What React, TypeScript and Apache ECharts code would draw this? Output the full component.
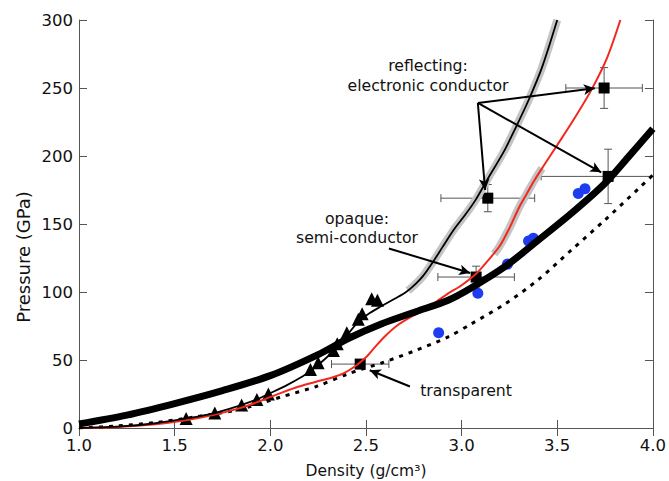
import React, { useEffect, useRef } from 'react';
import * as echarts from 'echarts';

// ---- data (density g/cm3, pressure GPa) ----
const thickCurve: number[][] = [
  [1.0, 3], [1.25, 9.5], [1.5, 18], [1.75, 27.5], [2.0, 38.5], [2.25, 54], [2.41, 66],
  [2.58, 76.5], [2.76, 85.5], [2.93, 94], [3.05, 103], [3.23, 119], [3.4, 138],
  [3.575, 158], [3.75, 180], [3.87, 199], [4.0, 220],
];
const dashedCurve: number[][] = [
  [1.0, 0], [1.2, 1.5], [1.4, 4], [1.6, 8], [1.8, 12.5], [1.89, 15.5], [2.06, 23],
  [2.24, 30.5], [2.41, 40], [2.585, 48], [2.76, 57], [2.93, 67], [3.05, 76.5],
  [3.23, 91.5], [3.4, 109], [3.575, 131], [3.75, 153], [3.94, 178], [4.0, 186],
];
const redCurve: number[][] = [
  [1.0, 0], [1.2, 0.8], [1.4, 2.8], [1.55, 5.5], [1.7, 9.5], [1.85, 15], [1.95, 20],
  [2.06, 26], [2.15, 30.5], [2.24, 34], [2.32, 37], [2.38, 40], [2.44, 45], [2.5, 52],
  [2.55, 60], [2.6, 67.5], [2.66, 75], [2.74, 82], [2.81, 87], [2.87, 93], [2.93, 99],
  [3.0, 105], [3.08, 114], [3.14, 123.5], [3.2, 134], [3.25, 147], [3.3, 162],
  [3.34, 172], [3.38, 182], [3.43, 193], [3.5, 208], [3.6, 230], [3.68, 249],
  [3.76, 272], [3.83, 300],
];
const redHalo: number[][] = [
  [3.17, 128], [3.2, 134], [3.25, 147], [3.3, 162], [3.34, 172], [3.38, 182], [3.42, 191],
];
const thinCurve: number[][] = [
  [1.0, 0], [1.2, 1], [1.4, 3.5], [1.56, 7], [1.71, 11], [1.85, 17], [1.93, 21],
  [1.99, 25], [2.08, 31], [2.17, 38], [2.22, 43], [2.28, 50], [2.34, 58], [2.4, 68],
  [2.46, 78], [2.52, 84.5], [2.58, 89.5], [2.65, 95], [2.71, 100], [2.76, 106], [2.8, 112],
  [2.85, 122], [2.9, 133], [2.96, 146], [3.02, 157], [3.07, 167], [3.14, 184],
  [3.22, 203], [3.28, 220], [3.35, 241], [3.42, 265], [3.5, 300],
];
const thinHalo: number[][] = [
  [2.72, 101], [2.76, 106], [2.8, 112], [2.85, 122], [2.9, 133], [2.96, 146],
  [3.02, 157], [3.07, 167], [3.14, 184], [3.22, 203], [3.28, 220], [3.35, 241],
  [3.42, 265], [3.5, 300],
];
const triangles: number[][] = [
  [1.56, 7], [1.71, 11], [1.85, 17], [1.93, 21], [1.99, 25], [2.21, 43], [2.25, 48],
  [2.33, 57], [2.35, 62], [2.4, 70], [2.46, 80], [2.48, 84], [2.53, 95], [2.56, 94],
];
const blueDots: number[][] = [
  [2.88, 70], [3.085, 99], [3.24, 120.5], [3.35, 137.5], [3.375, 139.5], [3.61, 172.5], [3.645, 176],
];
const sqX = [2.47, 3.076, 3.137, 3.745, 3.766];
const sqY = [47, 111, 169, 250, 185];
const sqXErr = [0.15, 0.2, 0.245, 0.2, 0.35];
const sqYErr = [0, 8, 10, 15, 20];

const arrows: number[][][] = [
  [[3.085, 239], [3.123, 175]],
  [[3.085, 239], [3.696, 249.8]],
  [[3.085, 239], [3.73, 188]],
  [[2.62, 132], [3.045, 114]],
  [[2.73, 30.5], [2.52, 42.5]],
];

const xTicks = [1.0, 1.5, 2.0, 2.5, 3.0, 3.5, 4.0];

const FONT = 'DejaVu Sans';

export default function App() {
  const ref = useRef<HTMLDivElement>(null);
  useEffect(() => {
    const chart = echarts.init(ref.current!, null, { renderer: 'svg' });
    const axisLine = { show: true, lineStyle: { color: '#555', width: 1 } };
    const axisTick = { show: true, inside: true, length: 8, lineStyle: { color: '#555', width: 1 } };
    const squares = sqX.map((x, i) => [x, sqY[i]]);
    const errData = sqX.map((x, i) => [x, sqY[i], sqXErr[i], sqYErr[i]]);
    chart.setOption({
      animation: false,
      backgroundColor: '#fff',
      grid: { left: 79, right: 14, top: 20, bottom: 53, containLabel: false },
      xAxis: [
        {
          type: 'value', min: 1, max: 4, interval: 0.5,
          axisLine, axisTick, splitLine: { show: false },
          axisLabel: {
            color: '#111', fontSize: 16.5, fontFamily: FONT, margin: 9,
            formatter: (v: number) => (xTicks.includes(Math.round(v * 10) / 10) ? v.toFixed(1) : ''),
          },
        },
        {
          type: 'value', min: 1, max: 4, interval: 0.5, position: 'top',
          axisLine, axisTick, splitLine: { show: false }, axisLabel: { show: false },
        },
      ],
      yAxis: [
        {
          type: 'value', min: 0, max: 300, interval: 50,
          axisLine, axisTick, splitLine: { show: false },
          axisLabel: { color: '#111', fontSize: 16.5, fontFamily: FONT, margin: 6 },
        },
        {
          type: 'value', min: 0, max: 300, interval: 50, position: 'right',
          axisLine, axisTick, splitLine: { show: false }, axisLabel: { show: false },
        },
      ],
      series: [
        {
          type: 'line', data: dashedCurve, showSymbol: false, smooth: 0.3, silent: true,
          lineStyle: { color: '#000', width: 3, type: [4, 6] },
        },
        {
          type: 'line', data: redHalo, showSymbol: false, smooth: 0.3, silent: true,
          lineStyle: { color: '#c4c4c4', width: 8 },
        },
        {
          type: 'line', data: thinHalo, showSymbol: false, smooth: 0.3, silent: true,
          lineStyle: { color: '#c4c4c4', width: 8 },
        },
        {
          type: 'line', data: redCurve, showSymbol: false, smooth: 0.3, silent: true,
          lineStyle: { color: '#f2281c', width: 2 },
        },
        {
          type: 'line', data: thinCurve, showSymbol: false, smooth: 0.3, silent: true,
          lineStyle: { color: '#000', width: 1.8 },
        },
        {
          type: 'line', data: thickCurve, showSymbol: false, smooth: 0.3, silent: true,
          lineStyle: { color: '#000', width: 7 },
        },
        {
          type: 'scatter', data: triangles, symbol: 'triangle', symbolSize: 13, silent: true,
          itemStyle: { color: '#000', opacity: 1 },
        },
        {
          type: 'scatter', data: blueDots, symbol: 'circle', symbolSize: 11, silent: true,
          itemStyle: { color: '#1e3cf0', opacity: 1 },
        },
        {
          type: 'custom', data: errData, silent: true,
          renderItem: (params: any, api: any) => {
            const x = api.value(0), y = api.value(1), dx = api.value(2), dy = api.value(3);
            const c = api.coord([x, y]);
            const l = api.coord([x - dx, y]);
            const r = api.coord([x + dx, y]);
            const cs = params.coordSys;
            const xmax = cs.x + cs.width;
            const style = { stroke: '#555', lineWidth: 1, fill: 'none' };
            const cap = 4;
            const children: any[] = [];
            const rx = Math.min(r[0], xmax);
            children.push({ type: 'line', shape: { x1: l[0], y1: c[1], x2: rx, y2: c[1] }, style });
            children.push({ type: 'line', shape: { x1: l[0], y1: c[1] - cap, x2: l[0], y2: c[1] + cap }, style });
            if (r[0] <= xmax) {
              children.push({ type: 'line', shape: { x1: r[0], y1: c[1] - cap, x2: r[0], y2: c[1] + cap }, style });
            }
            if (dy > 0) {
              const t = api.coord([x, y + dy]);
              const b = api.coord([x, y - dy]);
              children.push({ type: 'line', shape: { x1: c[0], y1: t[1], x2: c[0], y2: b[1] }, style });
              children.push({ type: 'line', shape: { x1: c[0] - cap, y1: t[1], x2: c[0] + cap, y2: t[1] }, style });
              children.push({ type: 'line', shape: { x1: c[0] - cap, y1: b[1], x2: c[0] + cap, y2: b[1] }, style });
            }
            return { type: 'group', children };
          },
        },
        {
          type: 'scatter', data: squares, symbol: 'rect', symbolSize: 11, silent: true,
          itemStyle: { color: '#000', opacity: 1 },
          markLine: {
            silent: true,
            symbol: ['none', 'arrow'],
            symbolSize: [8, 11],
            label: { show: false },
            lineStyle: { color: '#000', width: 2, type: 'solid', opacity: 1 },
            emphasis: { disabled: true },
            data: arrows.map((a) => [{ coord: a[0] }, { coord: a[1] }]),
          },
        },
      ],
      graphic: [
        {
          type: 'text', x: 428, y: 75, silent: true,
          style: {
            text: 'reflecting:\nelectronic conductor', fontSize: 15.7, fontFamily: FONT,
            fill: '#111', align: 'center', verticalAlign: 'middle', lineHeight: 20,
          },
        },
        {
          type: 'text', x: 357, y: 227.5, silent: true,
          style: {
            text: 'opaque:\nsemi-conductor', fontSize: 15.7, fontFamily: FONT,
            fill: '#111', align: 'center', verticalAlign: 'middle', lineHeight: 19,
          },
        },
        {
          type: 'text', x: 466, y: 390, silent: true,
          style: {
            text: 'transparent', fontSize: 15.7, fontFamily: FONT,
            fill: '#111', align: 'center', verticalAlign: 'middle',
          },
        },
        {
          type: 'text', x: 366, y: 471, silent: true,
          style: {
            text: 'Density (g/cm³)', fontSize: 15.5, fontFamily: FONT,
            fill: '#111', align: 'center', verticalAlign: 'middle',
          },
        },
        {
          type: 'text', x: 23, y: 257, rotation: Math.PI / 2, silent: true,
          style: {
            text: 'Pressure (GPa)', fontSize: 18, fontFamily: FONT,
            fill: '#111', align: 'center', verticalAlign: 'middle',
          },
        },
      ],
    });
    return () => chart.dispose();
  }, []);
  return (
    <div
      ref={ref}
      style={{ position: 'fixed', left: 0, top: 0, width: 669, height: 481, background: '#fff' }}
    />
  );
}
